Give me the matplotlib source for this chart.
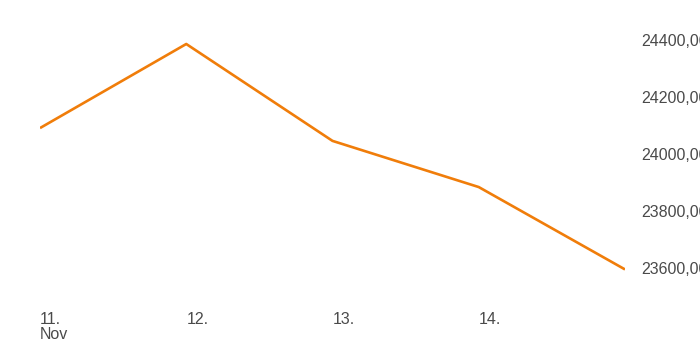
import matplotlib
matplotlib.use('Agg')
import matplotlib.pyplot as plt
from matplotlib.ticker import FuncFormatter

# daily closing values, Nov 11 - Nov 15
days = [11, 12, 13, 14, 15]
values = [24091, 24386, 24046, 23884, 23595]
tick_days = [11, 12, 13, 14]
tick_labels = ['11.\nNov', '12.', '13.', '14.']
y_ticks = [23600, 23800, 24000, 24200, 24400]

plt.rcParams['font.family'] = ['Liberation Sans', 'DejaVu Sans']

fig = plt.figure(figsize=(7, 3.5), dpi=100)
ax = fig.add_axes([40 / 700, 50 / 350, 585 / 700, 290 / 350])

ax.plot(days, values, color='#f07d0a', lw=1.9, solid_capstyle='butt')

ax.set_xlim(11, 15)
# 24400 sits at y=40px, 23600 at y=268px
ax.set_ylim(24400 - 260 / 0.285, 24400 + 30 / 0.285)

for s in ax.spines.values():
    s.set_visible(False)

ax.set_xticks(tick_days)
ax.set_xticklabels(tick_labels, ha='left', va='top', linespacing=0.95)
ax.tick_params(axis='x', length=0, pad=9, labelsize=11.5, colors='#4a4a4a')

ax.yaxis.tick_right()
ax.set_yticks(y_ticks)
ax.yaxis.set_major_formatter(FuncFormatter(lambda v, p: f'{v:.2f}'.replace('.', ',')))
ax.tick_params(axis='y', length=0, pad=12, labelsize=11.5, colors='#4a4a4a')

fig.savefig('out.png', dpi=100)
